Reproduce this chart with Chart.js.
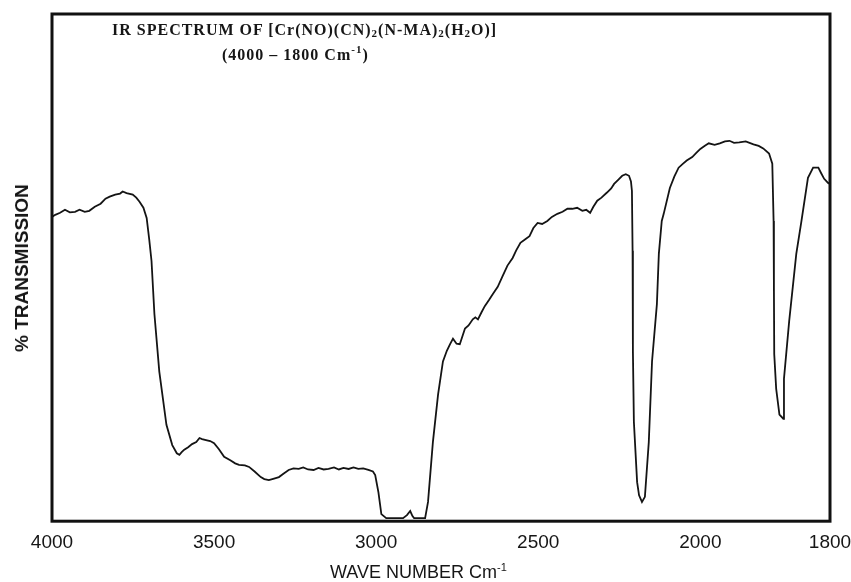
<!DOCTYPE html>
<html>
<head>
<meta charset="utf-8">
<script src="https://cdn.jsdelivr.net/npm/chart.js@4.4.1/dist/chart.umd.min.js"></script>
<style>
  body { margin: 0; background: #fff; }
  #wrap { position: relative; width: 851px; height: 582px; }
  .lbl { position: absolute; color: #161616; white-space: nowrap; }
  .ttl { font-family: "Liberation Serif", "Times New Roman", serif; font-weight: bold; font-size: 16px; letter-spacing: 1px; }
  .ttl sub { font-size: 11px; vertical-align: -2px; line-height: 0; }
  .ttl sup, .axt sup { font-size: 11px; vertical-align: 7px; line-height: 0; }
  .axt { font-family: "Liberation Sans", Arial, sans-serif; font-size: 18px; }
</style>
</head>
<body>
<div id="wrap">
  <canvas id="myChart"></canvas>
  <div class="lbl ttl" style="left:112px; top:21px;">IR SPECTRUM OF [Cr(NO)(CN)<sub>2</sub>(N-MA)<sub>2</sub>(H<sub>2</sub>O)]</div>
  <div class="lbl ttl" style="left:222px; top:46px;">(4000 &ndash; 1800 Cm<sup>-1</sup>)</div>
  <div class="lbl axt" style="left:330px; top:562px;">WAVE NUMBER Cm<sup>-1</sup></div>
  <div class="lbl axt" style="left:22px; top:268px; font-weight:bold; font-size:19px; transform:translate(-50%,-50%) rotate(-90deg);">% TRANSMISSION</div>
</div>
<script>
// wave numbers (cm-1)
var waveNumber = [
    4000, 3990, 3975, 3960, 3945, 3929, 3915, 3899, 3885, 3868,
    3850, 3835, 3822, 3805, 3790, 3782, 3770, 3751, 3740, 3730,
    3718, 3708,
    3700, 3693, 3684, 3669, 3647, 3629, 3615, 3607, 3600, 3592,
    3580, 3568, 3555, 3545, 3537, 3525, 3512, 3500, 3485, 3469,
    3450, 3435, 3423, 3405, 3392, 3375, 3356, 3345, 3331, 3315,
    3300, 3285, 3270, 3255, 3239, 3225, 3210, 3193, 3178, 3162,
    3147, 3130, 3115, 3101, 3085, 3070, 3055, 3040, 3024, 3010,
    3003, 2993, 2984, 2969, 2945, 2917, 2905, 2895, 2888, 2883,
    2865, 2849, 2840, 2825, 2809, 2794, 2782, 2772, 2763, 2752,
    2742, 2726, 2715, 2702, 2694, 2686, 2675, 2665, 2652, 2640,
    2625, 2610, 2595, 2579, 2568, 2555, 2540, 2527, 2515, 2502,
    2488, 2472, 2458, 2441, 2425, 2410, 2395, 2380, 2364, 2352,
    2340, 2330, 2318, 2305, 2288, 2275, 2266, 2255, 2241, 2230,
    2220, 2214, 2211, 2209, 2208, 2205, 2195, 2189, 2180, 2171,
    2159, 2149, 2134, 2128, 2119, 2113, 2094, 2080, 2067, 2055,
    2042, 2025, 2011, 2000, 1993, 1987, 1978, 1970, 1962, 1955,
    1948, 1940, 1930, 1918, 1910, 1903, 1894, 1889, 1887, 1886.5,
    1886, 1883, 1878, 1872, 1871, 1863, 1852, 1844, 1834, 1826,
    1818, 1814, 1809, 1803, 1800
];

// % transmission at each wave number
var transmission = [
    60.0, 60.4, 60.8, 61.4, 60.9, 61.0, 61.4, 61.0, 61.2, 62.0,
    62.6, 63.6, 64.0, 64.4, 64.6, 65.0, 64.7, 64.4, 63.8, 63.0,
    61.8, 59.8,
    55.5, 51.3, 40.8, 29.5, 19.0, 15.0, 13.4, 13.1, 13.6, 14.1,
    14.6, 15.2, 15.6, 16.4, 16.2, 16.0, 15.8, 15.4, 14.2, 12.7,
    12.0, 11.4, 11.1, 11.0, 10.7, 9.8, 8.7, 8.3, 8.1, 8.4,
    8.7, 9.4, 10.1, 10.4, 10.3, 10.6, 10.2, 10.1, 10.5, 10.2,
    10.3, 10.6, 10.2, 10.5, 10.3, 10.6, 10.3, 10.4, 10.1, 9.8,
    9.1, 5.7, 1.4, 0.6, 0.6, 0.6, 1.2, 2.0, 1.0, 0.6,
    0.6, 0.6, 3.8, 15.6, 25.0, 31.5, 33.6, 34.9, 36.0, 35.0,
    34.9, 38.0, 38.6, 39.8, 40.2, 39.8, 41.2, 42.4, 43.6, 44.8,
    46.2, 48.3, 50.4, 51.9, 53.4, 54.9, 55.6, 56.2, 57.8, 58.8,
    58.6, 59.2, 60.0, 60.6, 61.0, 61.6, 61.6, 61.8, 61.2, 61.4,
    60.8, 62.0, 63.2, 63.8, 64.8, 65.6, 66.5, 67.2, 68.1, 68.4,
    68.1, 67.0, 65.1, 53.3, 33.5, 19.6, 7.7, 5.1, 3.8, 4.8,
    15.6, 31.5, 42.8, 52.7, 59.2, 60.6, 65.7, 68.0, 69.7, 70.4,
    71.1, 71.8, 72.7, 73.4, 74.0, 74.5, 74.2, 74.5, 74.9, 75.0,
    74.6, 74.7, 74.9, 74.3, 74.0, 73.5, 72.5, 70.5, 59.2, 45.9,
    32.9, 26.1, 21.0, 20.2, 28.1, 39.4, 52.7, 59.2, 67.7, 69.7,
    69.7, 68.7, 67.5, 66.7, 66.5
];

var tickLabels = [4000, 3500, 3000, 2500, 2000, 1800];

// the chart paper doubles its scale below 2000 cm-1
function toAxis(w) {
    return w >= 2000 ? 4000 - w : 2000 + (2000 - w) * 2;
}

var points = waveNumber.map(function (w, i) {
    return { x: toAxis(w), y: transmission[i] };
});

var framePlugin = {
    id: 'frame',
    afterDatasetsDraw: function (chart) {
        var a = chart.chartArea, c = chart.ctx;
        c.save();
        c.lineWidth = 3;
        c.strokeStyle = '#111';
        c.strokeRect(a.left, a.top, a.right - a.left, a.bottom - a.top);
        c.restore();
    }
};

var ctx = document.getElementById('myChart').getContext('2d');

var config = {
    type: 'scatter',
    data: {
        datasets: [{
            data: points,
            showLine: true,
            borderColor: '#141414',
            borderWidth: 1.8,
            pointRadius: 0,
            tension: 0
        }]
    },
    options: {
        responsive: true,
        maintainAspectRatio: false,
        animation: false,
        layout: { padding: { left: 52, right: 21, top: 14, bottom: 18 } },
        plugins: { legend: { display: false }, title: { display: false }, tooltip: { enabled: false } },
        scales: {
            x: {
                type: 'linear',
                min: 0,
                max: toAxis(1800),
                grid: { display: false, drawTicks: false },
                border: { display: false },
                afterBuildTicks: function (scale) {
                    scale.ticks = tickLabels.map(function (w) { return { value: toAxis(w) }; });
                },
                afterFit: function (scale) {
                    scale.paddingLeft = 0;
                    scale.paddingRight = 0;
                },
                ticks: {
                    autoSkip: false,
                    maxRotation: 0,
                    padding: 10,
                    color: '#161616',
                    font: { family: 'Liberation Sans', size: 19 },
                    callback: function (v, i) { return tickLabels[i]; }
                }
            },
            y: {
                display: false,
                min: 0,
                max: 100
            }
        }
    },
    plugins: [framePlugin]
};

var myChart = new Chart(ctx, config);
</script>
</body>
</html>
